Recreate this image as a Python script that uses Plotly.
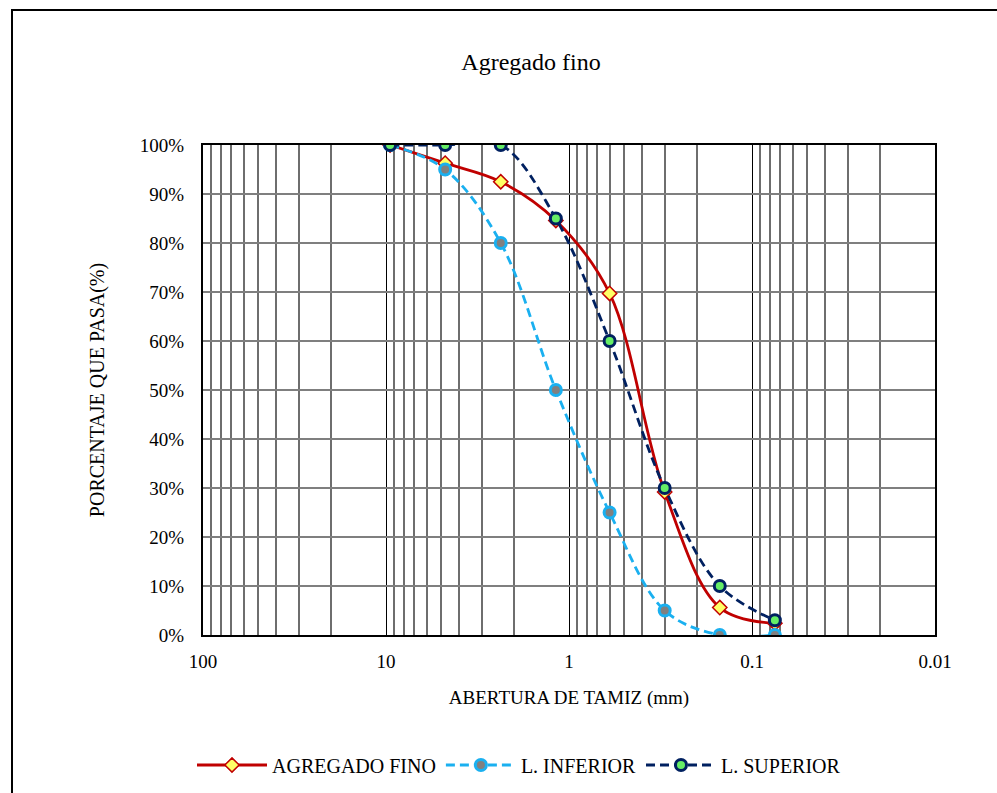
import plotly.graph_objects as go

# Sieve openings (mm) and percent passing
abertura = [9.5, 4.75, 2.36, 1.18, 0.6, 0.3, 0.15, 0.075]
agregado_fino = [100, 96.3, 92.5, 84.6, 69.7, 29.2, 5.6, 2.4]
l_inferior = [100, 95, 80, 50, 25, 5, 0, 0]
l_superior = [100, 100, 100, 85, 60, 30, 10, 3]

decadas = [100, 10, 1, 0.1, 0.01]
x_labels = ["100", "10", "1", "0.1", "0.01"]
y_ticks = [0, 10, 20, 30, 40, 50, 60, 70, 80, 90, 100]
y_labels = [f"{v}%" for v in y_ticks]

minor_vals = [m * d for d in [10, 1, 0.1, 0.01] for m in range(2, 10)]

FONT = "Liberation Serif"

fig = go.Figure()

fig.add_trace(go.Scatter(
    x=abertura, y=agregado_fino, name="AGREGADO FINO",
    mode="lines+markers",
    line=dict(color="#C00000", width=2.8, shape="spline", smoothing=1),
    marker=dict(symbol="diamond", size=11, color="#FFFF66",
                line=dict(color="#C00000", width=1.5)),
))
fig.add_trace(go.Scatter(
    x=abertura, y=l_inferior, name="L. INFERIOR",
    mode="lines+markers",
    line=dict(color="#1AB0F0", width=2.8, dash="9px,5px", shape="spline", smoothing=1),
    marker=dict(symbol="circle", size=11, color="#808080",
                line=dict(color="#1AB0F0", width=3)),
))
fig.add_trace(go.Scatter(
    x=abertura, y=l_superior, name="L. SUPERIOR",
    mode="lines+markers",
    line=dict(color="#002060", width=2.8, dash="9px,5px", shape="spline", smoothing=1),
    marker=dict(symbol="circle", size=11, color="#66EE66",
                line=dict(color="#002060", width=3)),
))

# Outer frame around the chart
fig.add_shape(type="rect", xref="paper", yref="paper",
              x0=(12 - 203) / 732, x1=(1010 - 203) / 732,
              y0=(635 - 810) / 490, y1=(635 - 10) / 490,
              line=dict(color="black", width=2), fillcolor="rgba(0,0,0,0)",
              layer="below")

fig.update_layout(
    width=997, height=793,
    margin=dict(l=203, r=62, t=145, b=158, autoexpand=False),
    paper_bgcolor="white", plot_bgcolor="white",
    font=dict(family=FONT, size=19, color="black"),
    title=dict(text="Agregado fino", x=531 / 997, xanchor="center",
               y=1 - 62 / 793, yanchor="middle",
               font=dict(family=FONT, size=24, color="black")),
    showlegend=True,
    legend=dict(orientation="h", x=(519 - 203) / 732, xanchor="center",
                y=-(765 - 635) / 490, yanchor="middle",
                font=dict(family=FONT, size=20, color="black"),
                itemwidth=70, bgcolor="rgba(0,0,0,0)"),
    xaxis=dict(
        type="log", range=[2, -2],
        tickvals=decadas, ticktext=x_labels,
        tickfont=dict(family=FONT, size=19),
        showgrid=True, gridcolor="black", gridwidth=1,
        minor=dict(tickvals=minor_vals, showgrid=True,
                   gridcolor="#6E6E6E", gridwidth=2, ticks=""),
        showline=True, linecolor="black", linewidth=2, mirror=True,
        ticks="", ticklabelstandoff=8,
        title=dict(text="ABERTURA DE TAMIZ (mm)", standoff=20,
                   font=dict(family=FONT, size=19)),
        zeroline=False,
    ),
    yaxis=dict(
        range=[0, 100], tickvals=y_ticks, ticktext=y_labels,
        tickfont=dict(family=FONT, size=19),
        showgrid=True, gridcolor="#7F7F7F", gridwidth=2,
        showline=True, linecolor="black", linewidth=2, mirror=True,
        ticks="", ticklabelstandoff=13,
        title=dict(text="PORCENTAJE QUE PASA(%)", standoff=30,
                   font=dict(family=FONT, size=20)),
        zeroline=False,
    ),
)

fig.write_html("out.html")
